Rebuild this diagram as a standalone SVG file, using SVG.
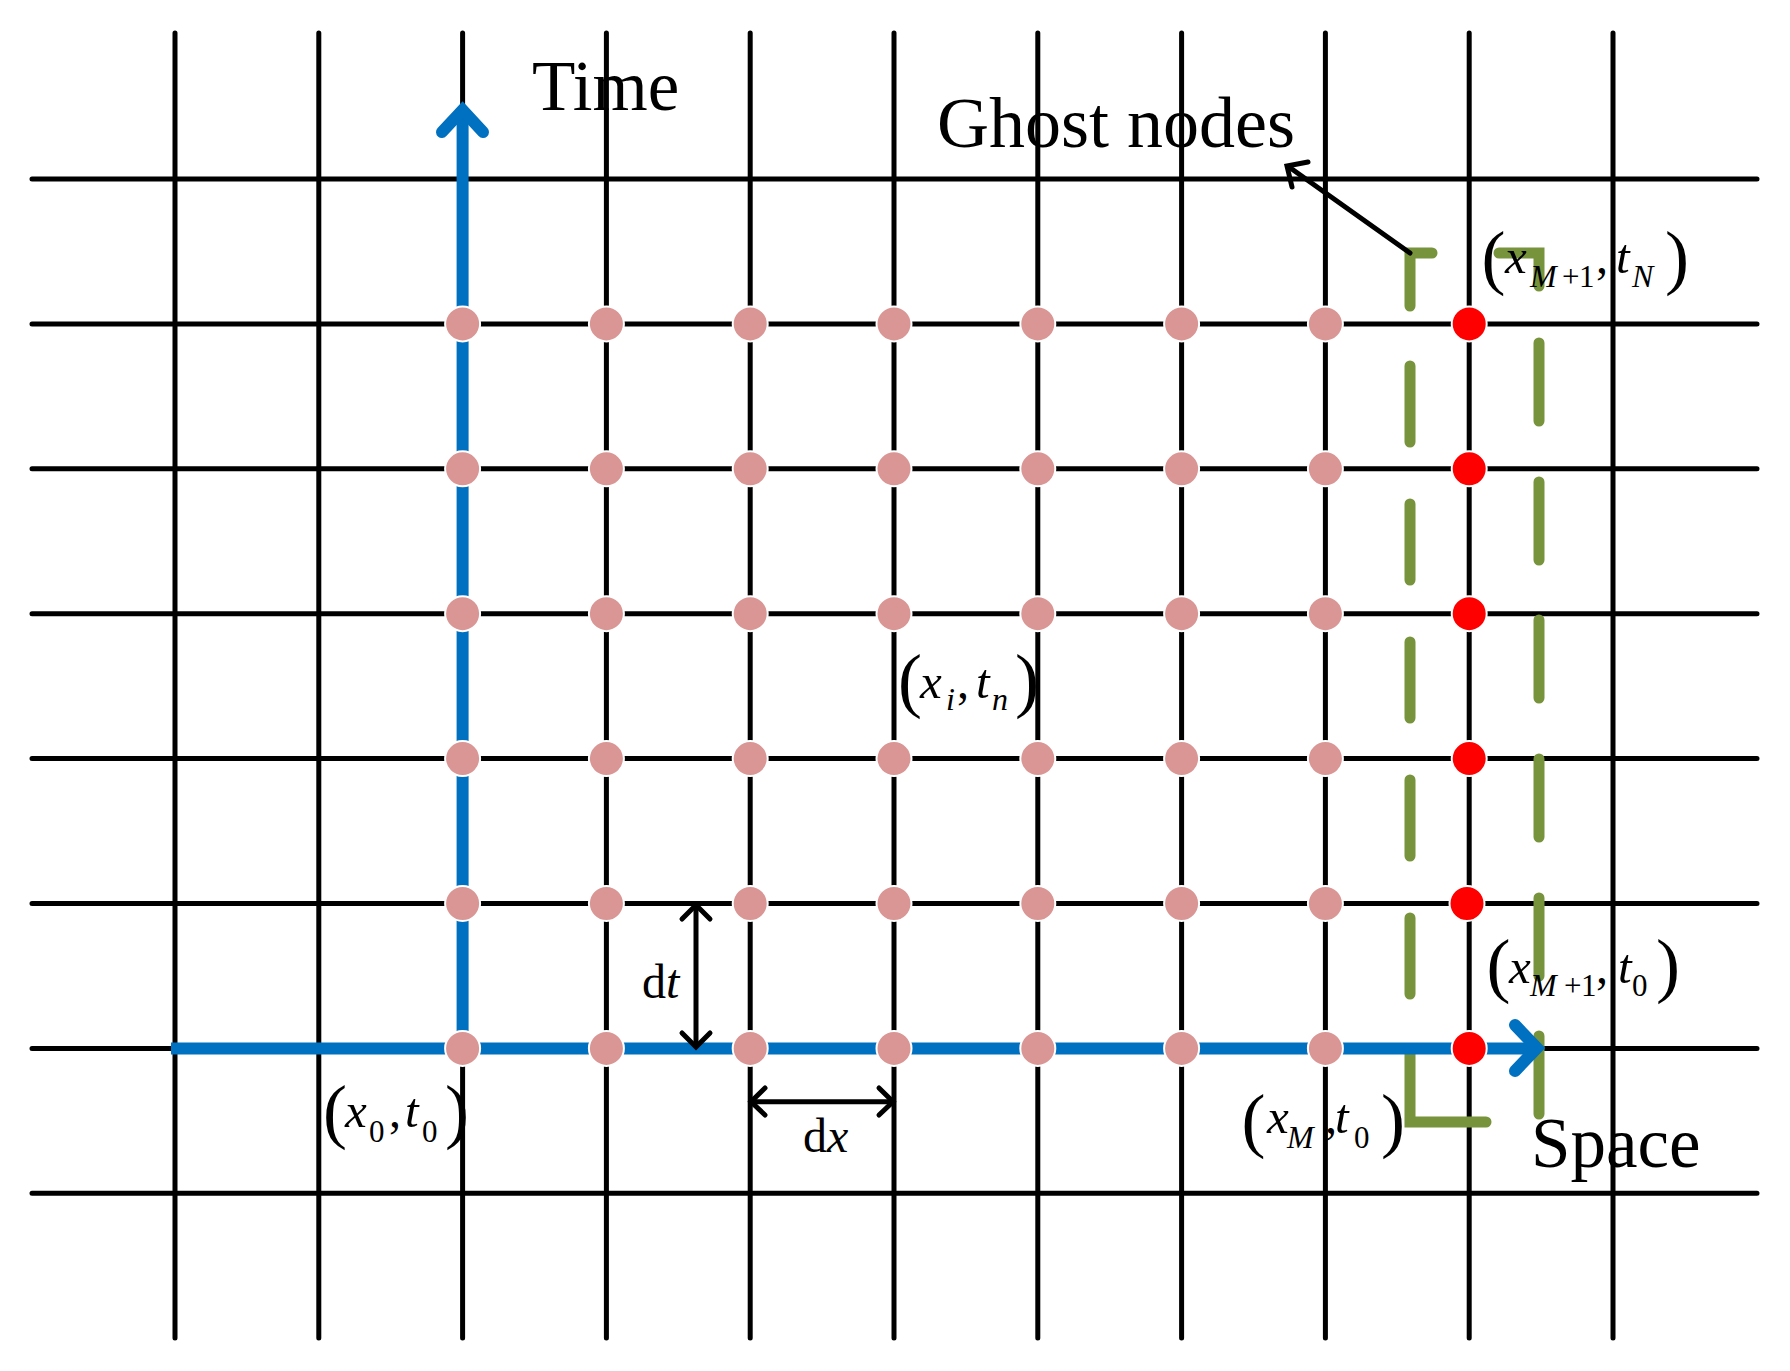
<svg xmlns="http://www.w3.org/2000/svg" width="1790" height="1371" viewBox="0 0 1790 1371">
<style>
.grid{stroke:#000;stroke-width:5;stroke-linecap:round;fill:none}
.ghost{stroke:#77933C;stroke-width:11;stroke-linecap:round;stroke-linejoin:miter;fill:none}
.axis{stroke:#0070C0;stroke-width:12;fill:none}
.dim{stroke:#000;stroke-width:5;fill:none;stroke-linecap:round;stroke-linejoin:miter}
.pn{fill:#D99694;stroke:#fff;stroke-width:2}
.rn{fill:#FF0000;stroke:#fff;stroke-width:2}
text{font-family:"Liberation Serif","Times New Roman",serif;fill:#000}
.lbl{font-size:71px}
.mi{font-size:49px;font-style:italic}
.mn{font-size:48px}
.sub{font-size:32px;font-style:italic}
.subn{font-size:31px}
.par{font-size:72px}
.dl{font-size:48px}
</style>
<rect width="1790" height="1371" fill="#fff"/>
<g id="grid">
<path class="grid" d="M175,33V1338M318.8,33V1338M462.6,33V1338M606.4,33V1338M750.2,33V1338M894,33V1338M1037.8,33V1338M1181.6,33V1338M1325.4,33V1338M1469.2,33V1338M1613,33V1338"/>
<path class="grid" d="M32,179H1757M32,323.9H1757M32,468.8H1757M32,613.7H1757M32,758.6H1757M32,903.5H1757M32,1048.4H1757M32,1193.3H1757"/>
</g>
<g id="ghost-box">
<path class="ghost" d="M1432,253H1410V306M1410,366V442M1410,504V580M1410,642V718M1410,780V856M1410,918V994M1410,1050V1122H1486"/>
<path class="ghost" d="M1499,253H1539V286M1539,343V421M1539,482V560M1539,620V698M1539,759V837M1539,898V976M1539,1036V1114"/>
</g>
<g id="connectors">
<path class="axis" d="M171,1048.4H1537"/>
<path class="axis" stroke-linecap="round" stroke-linejoin="miter" d="M1515,1025L1537,1048L1515,1071"/>
<path class="axis" d="M462.6,1048.4V112"/>
<path class="axis" stroke-linecap="round" stroke-linejoin="miter" d="M442,132L462.6,110L483,132"/>
<path class="dim" stroke-width="7" d="M1410,253L1289,167"/>
<path class="dim" stroke-width="7" d="M1308,162L1287,166L1292,187"/>
<path class="dim" d="M696,906V1045"/>
<path class="dim" d="M682,919L696,905L710,919"/>
<path class="dim" d="M682,1033L696,1047L710,1033"/>
<path class="dim" d="M752,1101.7H892"/>
<path class="dim" d="M765,1088L751,1101.7L765,1115"/>
<path class="dim" d="M879,1088L893,1101.7L879,1115"/>
</g>
<g id="nodes">
<g id="n-2-1"><circle class="pn" cx="462.6" cy="323.9" r="17.5"/></g>
<g id="n-3-1"><circle class="pn" cx="606.4" cy="323.9" r="17.5"/></g>
<g id="n-4-1"><circle class="pn" cx="750.2" cy="323.9" r="17.5"/></g>
<g id="n-5-1"><circle class="pn" cx="894" cy="323.9" r="17.5"/></g>
<g id="n-6-1"><circle class="pn" cx="1037.8" cy="323.9" r="17.5"/></g>
<g id="n-7-1"><circle class="pn" cx="1181.6" cy="323.9" r="17.5"/></g>
<g id="n-8-1"><circle class="pn" cx="1325.4" cy="323.9" r="17.5"/></g>
<g id="n-2-2"><circle class="pn" cx="462.6" cy="468.8" r="17.5"/></g>
<g id="n-3-2"><circle class="pn" cx="606.4" cy="468.8" r="17.5"/></g>
<g id="n-4-2"><circle class="pn" cx="750.2" cy="468.8" r="17.5"/></g>
<g id="n-5-2"><circle class="pn" cx="894" cy="468.8" r="17.5"/></g>
<g id="n-6-2"><circle class="pn" cx="1037.8" cy="468.8" r="17.5"/></g>
<g id="n-7-2"><circle class="pn" cx="1181.6" cy="468.8" r="17.5"/></g>
<g id="n-8-2"><circle class="pn" cx="1325.4" cy="468.8" r="17.5"/></g>
<g id="n-2-3"><circle class="pn" cx="462.6" cy="613.7" r="17.5"/></g>
<g id="n-3-3"><circle class="pn" cx="606.4" cy="613.7" r="17.5"/></g>
<g id="n-4-3"><circle class="pn" cx="750.2" cy="613.7" r="17.5"/></g>
<g id="n-5-3"><circle class="pn" cx="894" cy="613.7" r="17.5"/></g>
<g id="n-6-3"><circle class="pn" cx="1037.8" cy="613.7" r="17.5"/></g>
<g id="n-7-3"><circle class="pn" cx="1181.6" cy="613.7" r="17.5"/></g>
<g id="n-8-3"><circle class="pn" cx="1325.4" cy="613.7" r="17.5"/></g>
<g id="n-2-4"><circle class="pn" cx="462.6" cy="758.6" r="17.5"/></g>
<g id="n-3-4"><circle class="pn" cx="606.4" cy="758.6" r="17.5"/></g>
<g id="n-4-4"><circle class="pn" cx="750.2" cy="758.6" r="17.5"/></g>
<g id="n-5-4"><circle class="pn" cx="894" cy="758.6" r="17.5"/></g>
<g id="n-6-4"><circle class="pn" cx="1037.8" cy="758.6" r="17.5"/></g>
<g id="n-7-4"><circle class="pn" cx="1181.6" cy="758.6" r="17.5"/></g>
<g id="n-8-4"><circle class="pn" cx="1325.4" cy="758.6" r="17.5"/></g>
<g id="n-2-5"><circle class="pn" cx="462.6" cy="903.5" r="17.5"/></g>
<g id="n-3-5"><circle class="pn" cx="606.4" cy="903.5" r="17.5"/></g>
<g id="n-4-5"><circle class="pn" cx="750.2" cy="903.5" r="17.5"/></g>
<g id="n-5-5"><circle class="pn" cx="894" cy="903.5" r="17.5"/></g>
<g id="n-6-5"><circle class="pn" cx="1037.8" cy="903.5" r="17.5"/></g>
<g id="n-7-5"><circle class="pn" cx="1181.6" cy="903.5" r="17.5"/></g>
<g id="n-8-5"><circle class="pn" cx="1325.4" cy="903.5" r="17.5"/></g>
<g id="n-2-6"><circle class="pn" cx="462.6" cy="1048.4" r="17.5"/></g>
<g id="n-3-6"><circle class="pn" cx="606.4" cy="1048.4" r="17.5"/></g>
<g id="n-4-6"><circle class="pn" cx="750.2" cy="1048.4" r="17.5"/></g>
<g id="n-5-6"><circle class="pn" cx="894" cy="1048.4" r="17.5"/></g>
<g id="n-6-6"><circle class="pn" cx="1037.8" cy="1048.4" r="17.5"/></g>
<g id="n-7-6"><circle class="pn" cx="1181.6" cy="1048.4" r="17.5"/></g>
<g id="n-8-6"><circle class="pn" cx="1325.4" cy="1048.4" r="17.5"/></g>
<g id="g-1"><circle class="rn" cx="1469.2" cy="323.9" r="17.5"/></g>
<g id="g-2"><circle class="rn" cx="1469.2" cy="468.8" r="17.5"/></g>
<g id="g-3"><circle class="rn" cx="1469.2" cy="613.7" r="17.5"/></g>
<g id="g-4"><circle class="rn" cx="1469.2" cy="758.6" r="17.5"/></g>
<g id="g-5"><circle class="rn" cx="1467" cy="903.5" r="17.5"/></g>
<g id="g-6"><circle class="rn" cx="1469.2" cy="1048.4" r="17.5"/></g>
</g>
<g id="labels">
<text class="lbl" x="532" y="110">Time</text>
<text class="lbl" x="937" y="147" style="font-size:72px">Ghost nodes</text>
<text class="lbl" x="1531" y="1167">Space</text>
<text class="dl" x="642" y="998">d<tspan font-style="italic">t</tspan></text>
<text class="dl" x="803" y="1152">d<tspan font-style="italic">x</tspan></text>
</g>
<g id="label-xi-tn">
<text class="par" x="898" y="704">(</text>
<text class="mi" x="920" y="698">x</text>
<text class="sub" x="946" y="710">i</text>
<text class="mn" x="957" y="698">,</text>
<text class="mi" x="976" y="698">t</text>
<text class="sub" x="992" y="710">n</text>
<text class="par" x="1015" y="704">)</text>
</g>
<g id="label-x0-t0">
<text class="par" x="323" y="1134.5">(</text>
<text class="mi" x="345" y="1127">x</text>
<text class="subn" x="369" y="1141.7">0</text>
<text class="mn" x="389" y="1127">,</text>
<text class="mi" x="405" y="1127">t</text>
<text class="subn" x="422" y="1141.7">0</text>
<text class="par" x="445" y="1134.5">)</text>
</g>
<g id="label-xM-t0">
<text class="par" x="1241.5" y="1144">(</text>
<text class="mi" x="1267" y="1133">x</text>
<text class="sub" x="1287" y="1148">M</text>
<text class="mn" x="1325" y="1133">,</text>
<text class="mi" x="1335" y="1133">t</text>
<text class="subn" x="1354" y="1148">0</text>
<text class="par" x="1381" y="1144">)</text>
</g>
<g id="label-xM1-t0">
<text class="par" x="1486.5" y="989">(</text>
<text class="mi" x="1509" y="983">x</text>
<text class="sub" x="1530" y="996">M</text>
<text class="subn" x="1564" y="996">+</text>
<text class="subn" x="1581" y="996">1</text>
<text class="mn" x="1596" y="983">,</text>
<text class="mi" x="1618" y="983">t</text>
<text class="subn" x="1632" y="996">0</text>
<text class="par" x="1656" y="989">)</text>
</g>
<g id="label-xM1-tN">
<text class="par" x="1481.5" y="280.5">(</text>
<text class="mi" x="1505" y="273">x</text>
<text class="sub" x="1530" y="287">M</text>
<text class="subn" x="1562" y="287">+</text>
<text class="subn" x="1579" y="287">1</text>
<text class="mn" x="1596" y="273">,</text>
<text class="mi" x="1616" y="273">t</text>
<text class="sub" x="1632" y="287">N</text>
<text class="par" x="1665" y="280.5">)</text>
</g>
</svg>
